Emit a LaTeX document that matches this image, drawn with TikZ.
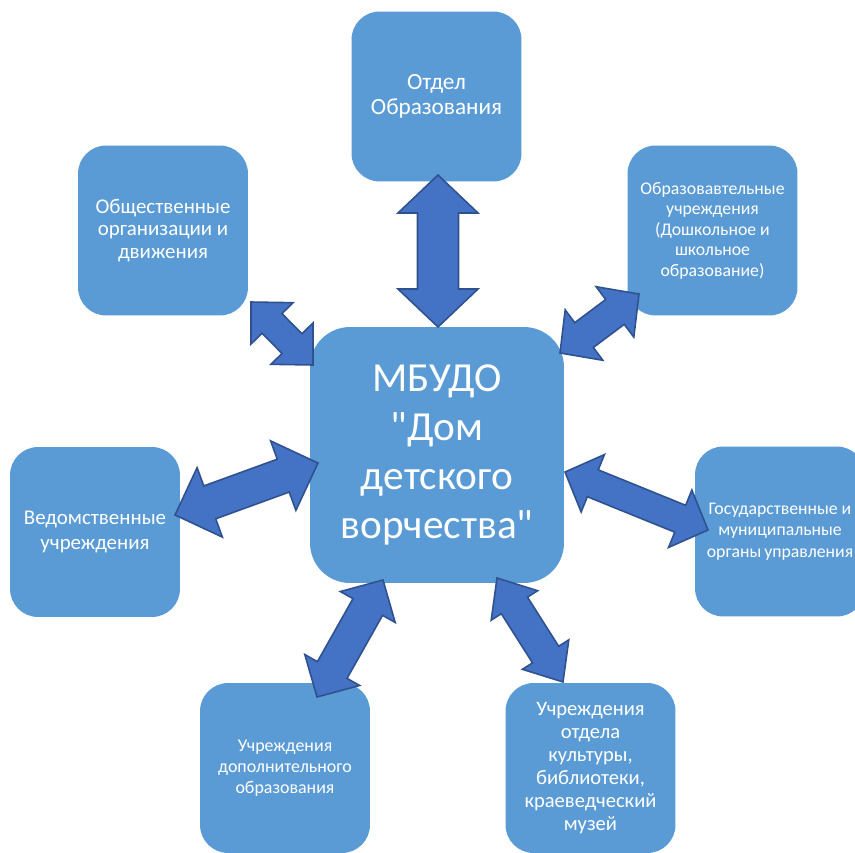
\documentclass[tikz,border=0pt]{standalone}
\usepackage{fontspec}
\setmainfont{Carlito}
\newfontfamily\plainfont{Carlito}
\usetikzlibrary{calc}
\definecolor{boxblue}{HTML}{5B9BD5}
\definecolor{arrowblue}{HTML}{4472C4}
\definecolor{arrowedge}{HTML}{2F528F}
\tikzset{block/.style={fill=boxblue, rounded corners=16pt, minimum width=3.4cm, minimum height=3.4cm, text=white, align=center, inner sep=2pt},
  dblarrow/.style={fill=arrowblue, draw=arrowedge, line width=0.9pt, line join=miter}}
% name, x, y, font size, baseline skip, text
\newcommand{\block}[6]{\node[block,font=\fontsize{#4}{#5}\selectfont] (#1) at (#2,#3) {#6};}
% double block arrow: from, to, head half width, shaft half width, head length
\newcommand{\link}[5]{\filldraw[dblarrow] (#1) -- ($(#1)!#5!(#2)!#3!90:(#2)$) -- ($(#1)!#5!(#2)!#4!90:(#2)$)
  -- ($(#2)!#5!(#1)!#4!-90:(#1)$) -- ($(#2)!#5!(#1)!#3!-90:(#1)$) -- (#2)
  -- ($(#2)!#5!(#1)!#3!90:(#1)$) -- ($(#2)!#5!(#1)!#4!90:(#1)$)
  -- ($(#1)!#5!(#2)!#4!-90:(#2)$) -- ($(#1)!#5!(#2)!#3!-90:(#2)$) -- cycle;}

\begin{document}
\begin{tikzpicture}[x=0.02cm,y=-0.02cm]
    \clip (0,0) rectangle (855,852);
    \block{otdel}{436.5}{96.5}{13.2}{14.2}{Отдел\\Образования}
    \block{obsch}{163}{230.5}{11.9}{12.6}{Общественные\\организации и\\движения}
    \block{obraz}{712.5}{230.5}{10.1}{11.7}{Образовавтельные\\учреждения\\(Дошкольное и\\школьное\\образование)}
    \block{vedom}{95}{532}{11.9}{13.7}{Ведомственные\\учреждения}
    \block{gosud}{780}{531.5}{10.1}{12.2}{Государственные и\\муниципальные\\органы\,управления}
    \block{dopob}{285}{768}{10.2}{12}{Учреждения\\дополнительного\\образования}
    \block{kult}{590.5}{768}{11.7}{13}{Учреждения\\отдела\\культуры,\\библиотеки,\\краеведческий\\музей}
    \node[block, minimum width=5.08cm, minimum height=5.12cm, rounded corners=0.8cm,
      font=\plainfont\fontsize{23.5}{28}\selectfont] (mbudo) at (437,455) {МБУДО\\"Дом\\детского\\ворчества"};

    \coordinate (a1) at (438,175); \coordinate (b1) at (438,327);
    \coordinate (a2) at (251,302); \coordinate (b2) at (313,365);
    \coordinate (a3) at (639,294); \coordinate (b3) at (560,353);
    \coordinate (a4) at (175,515); \coordinate (b4) at (318,463);
    \coordinate (a5) at (708,530); \coordinate (b5) at (565,472);
    \coordinate (a6) at (317,697); \coordinate (b6) at (383,580);
    \coordinate (a7) at (563,682); \coordinate (b7) at (497,578);
    \link{a1}{b1}{0.8cm}{0.41cm}{0.76cm}
    \link{a2}{b2}{0.59cm}{0.28cm}{0.6cm}
    \link{a3}{b3}{0.63cm}{0.31cm}{0.6cm}
    \link{a4}{b4}{0.74cm}{0.35cm}{0.74cm}
    \link{a5}{b5}{0.62cm}{0.29cm}{0.6cm}
    \link{a6}{b6}{0.63cm}{0.34cm}{0.62cm}
    \link{a7}{b7}{0.55cm}{0.31cm}{0.65cm}
\end{tikzpicture}
\end{document}
